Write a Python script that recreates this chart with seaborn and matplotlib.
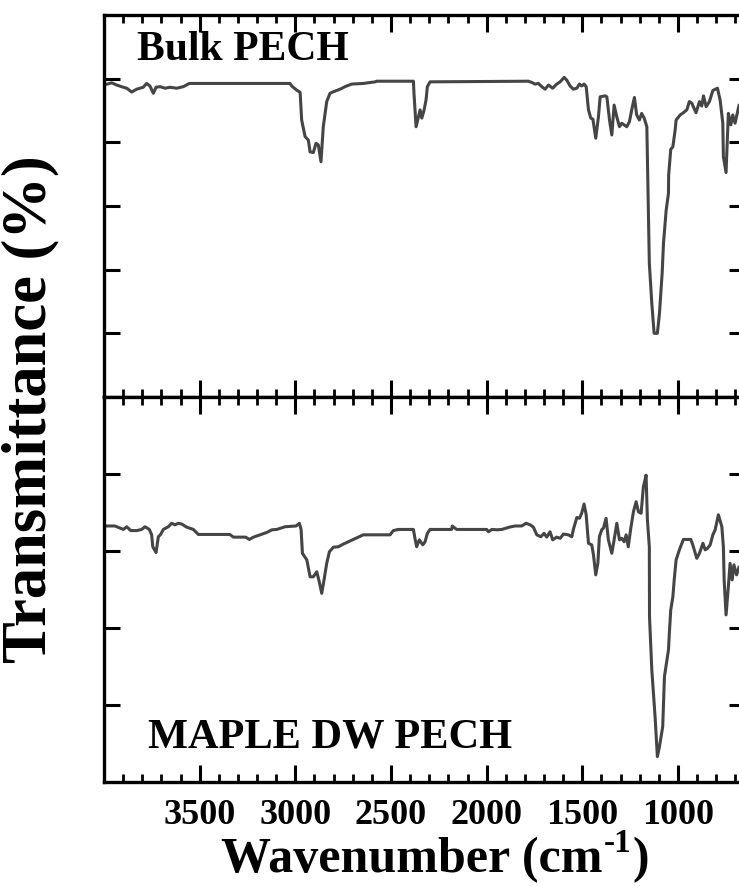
import matplotlib
matplotlib.use("Agg")
import matplotlib.pyplot as plt
from matplotlib.ticker import MultipleLocator, NullFormatter
import seaborn as sns
import pandas as pd

# ---------------- data ----------------
top_wn = [4000, 3983, 3960, 3934, 3899, 3881, 3855, 3829, 3795, 3777, 3760, 3742, 3728, 3707,
          3681, 3655, 3620, 3585, 3554, 3028, 3019, 2993, 2975, 2967, 2949, 2932, 2923, 2906,
          2892, 2880, 2866, 2854, 2836, 2819, 2801, 2766, 2740, 2705, 2645, 2583, 2575, 2383,
          2380, 2369, 2348, 2339, 2327, 2317, 2310, 2296, 1782, 1764, 1747, 1730, 1712, 1695,
          1677, 1655, 1634, 1616, 1595, 1581, 1564, 1547, 1529, 1515, 1503, 1491, 1480, 1468,
          1456, 1445, 1430, 1416, 1407, 1381, 1372, 1358, 1346, 1334, 1320, 1306, 1294, 1282,
          1268, 1254, 1242, 1228, 1216, 1202, 1190, 1177, 1163, 1155, 1150, 1137, 1125, 1108,
          1097, 1083, 1076, 1062, 1050, 1049, 1038, 1027, 1015, 1010, 989, 972, 954, 941, 928,
          906, 888, 876, 867, 853, 836, 818, 794, 780, 766, 763, 749, 737, 724, 714, 702, 681, 660]
top_val = [98.0, 98.3, 98.7, 98.0, 97.3, 97.0, 95.8, 96.7, 97.3, 98.5, 97.7, 95.4, 97.3, 97.5,
           97.0, 97.3, 97.0, 97.5, 98.5, 98.5, 97.7, 96.4, 95.7, 87.0, 81.8, 80.7, 77.0, 76.8,
           79.7, 79.2, 73.9, 84.9, 92.8, 95.4, 95.9, 96.7, 97.5, 98.3, 98.5, 99.0, 99.2, 99.2,
           95.4, 84.9, 90.2, 87.6, 90.2, 93.3, 97.5, 99.0, 99.2, 98.8, 98.3, 98.5, 97.5, 96.7,
           98.0, 97.0, 98.3, 99.0, 100.4, 99.5, 97.7, 96.7, 97.0, 98.3, 97.7, 98.3, 97.5, 90.2,
           87.6, 87.3, 81.3, 88.0, 94.3, 94.6, 94.3, 87.0, 82.3, 91.7, 88.0, 84.9, 86.0, 85.5,
           84.9, 86.5, 90.2, 94.1, 88.6, 87.0, 89.1, 87.6, 84.9, 58.7, 42.0, 29.4, 20.0, 20.0,
           26.3, 38.9, 48.3, 58.7, 64.0, 69.7, 77.8, 78.6, 83.9, 87.0, 88.6, 89.3, 90.2, 92.8, 92.3,
           89.3, 92.8, 91.4, 94.6, 91.2, 92.8, 96.3, 97.0, 93.3, 86.0, 75.5, 70.5, 89.1, 85.5, 88.6, 86.0, 91.7, 92.0]

bot_wn = [4000, 3986, 3943, 3899, 3881, 3860, 3829, 3803, 3786, 3763, 3751, 3745, 3728, 3716,
          3704, 3690, 3664, 3646, 3629, 3612, 3594, 3568, 3533, 3507, 3342, 3324, 3260, 3240,
          3219, 3185, 3150, 3123, 3097, 3054, 2996, 2979, 2970, 2963, 2940, 2923, 2906, 2888,
          2875, 2862, 2850, 2836, 2822, 2801, 2775, 2749, 2723, 2697, 2671, 2645, 2505, 2488,
          2462, 2383, 2375, 2366, 2352, 2334, 2322, 2310, 2296, 2183, 2180, 2157, 2000, 1991,
          1973, 1947, 1921, 1881, 1852, 1817, 1794, 1773, 1756, 1738, 1717, 1700, 1686, 1669,
          1655, 1634, 1616, 1599, 1573, 1555, 1547, 1529, 1515, 1503, 1491, 1480, 1468, 1451,
          1442, 1430, 1419, 1411, 1398, 1390, 1376, 1364, 1346, 1334, 1320, 1306, 1294, 1282,
          1271, 1260, 1247, 1233, 1219, 1207, 1193, 1181, 1167, 1160, 1150, 1149, 1137, 1120,
          1108, 1097, 1080, 1071, 1050, 1045, 1038, 1027, 1020, 1010, 993, 972, 954, 933, 923,
          902, 888, 870, 858, 846, 832, 818, 806, 789, 771, 763, 759, 749, 737, 728, 717, 708,
          694, 681, 660]
bot_val = [66.5, 66.5, 66.5, 65.6, 66.3, 65.3, 65.3, 65.6, 66.3, 65.6, 64.2, 61.1, 59.6, 63.7,
           64.3, 65.6, 66.3, 67.2, 66.8, 67.2, 67.0, 66.2, 65.6, 64.3, 64.3, 63.6, 63.6, 63.0,
           63.6, 64.2, 64.8, 65.5, 65.6, 66.3, 66.5, 67.2, 65.6, 59.4, 57.7, 53.3, 53.3, 54.6,
           52.0, 49.0, 52.5, 56.8, 59.8, 61.0, 61.1, 61.8, 62.4, 63.0, 63.6, 64.2, 64.2, 65.3,
           65.6, 65.6, 63.3, 61.1, 62.9, 61.6, 62.4, 64.6, 65.6, 65.6, 66.5, 65.6, 65.6, 65.0,
           65.6, 65.5, 65.6, 66.2, 66.5, 66.5, 67.2, 66.8, 66.2, 64.2, 63.7, 64.6, 63.6, 65.0,
           62.9, 63.6, 63.3, 64.4, 64.2, 63.7, 65.6, 68.7, 68.5, 69.9, 72.2, 69.4, 62.0, 61.6,
           59.0, 53.8, 56.8, 63.7, 65.6, 65.9, 68.5, 62.9, 59.4, 62.9, 67.2, 62.9, 63.3, 62.4,
           64.2, 61.1, 65.9, 70.2, 72.8, 70.2, 69.8, 76.7, 79.7, 68.1, 61.1, 42.9, 29.1, 17.0,
           6.6, 9.2, 14.4, 27.4, 34.3, 39.0, 44.7, 48.1, 52.5, 57.7, 60.3, 63.0, 63.0, 63.0, 61.6,
           58.1, 59.4, 62.0, 60.3, 60.7, 61.6, 64.2, 65.5, 69.4, 66.3, 61.1, 52.5, 43.4, 50.7, 56.8, 52.5, 56.4,
           53.8, 55.9, 56.0]

panel_labels = ["Bulk PECH", "MAPLE DW PECH"]
x_ticks = [3500, 3000, 2500, 2000, 1500, 1000]
x_label_parts = ["Wavenumber (cm", "-1", ")"]
y_label = "Transmittance (%)"

# ---------------- style ----------------
sns.set_style("ticks")
plt.rcParams["font.family"] = ["Liberation Serif", "DejaVu Serif"]
plt.rcParams["font.weight"] = "bold"
plt.rcParams["text.color"] = "black"
plt.rcParams["axes.labelcolor"] = "black"
plt.rcParams["xtick.color"] = "black"
plt.rcParams["ytick.color"] = "black"
plt.rcParams["xtick.labelcolor"] = "black"
plt.rcParams["ytick.labelcolor"] = "black"

W, H = 739, 886
fig = plt.figure(figsize=(W / 100, H / 100), dpi=100)

left = 104 / W
width = (745 - 104) / W
ax_top = fig.add_axes([left, 1 - 397 / H, width, 382 / H])
ax_bot = fig.add_axes([left, 1 - 782 / H, width, 385 / H])

df_top = pd.DataFrame({"wn": top_wn, "T": top_val})
df_bot = pd.DataFrame({"wn": bot_wn, "T": bot_val})

line_color = "#454545"
sns.lineplot(data=df_top, x="wn", y="T", ax=ax_top, color=line_color, linewidth=2.2,
             sort=False, estimator=None)
sns.lineplot(data=df_bot, x="wn", y="T", ax=ax_bot, color=line_color, linewidth=2.2,
             sort=False, estimator=None)

ax_top.set_ylim(0, 120)
ax_top.set_yticks([20, 40, 60, 80, 100])
ax_bot.set_ylim(0, 100)
ax_bot.set_yticks([20, 40, 60, 80])

for ax in (ax_top, ax_bot):
    ax.set_xlim(4000, 650)
    ax.set_xticks(x_ticks)
    ax.xaxis.set_minor_locator(MultipleLocator(100))
    ax.set_xlabel("")
    ax.set_ylabel("")
    ax.yaxis.set_major_formatter(NullFormatter())
    for s in ax.spines.values():
        s.set_linewidth(2.4)
        s.set_color("black")
        s.set_visible(True)
    ax.tick_params(axis="x", which="major", direction="in", length=12, width=2.2,
                   top=True, bottom=True, colors="black")
    ax.tick_params(axis="x", which="minor", direction="in", length=6, width=2.0,
                   top=True, bottom=True, colors="black")
    ax.tick_params(axis="y", which="major", direction="in", length=11.5, width=2.2,
                   left=True, right=True, colors="black")
    ax.tick_params(axis="y", which="minor", left=False, right=False)

ax_top.xaxis.set_major_formatter(NullFormatter())
ax_bot.tick_params(axis="x", which="major", labelsize=26, pad=12, labelcolor="black")
for lbl in ax_bot.get_xticklabels():
    lbl.set_fontweight("bold")
    lbl.set_color("black")

fig.text(137 / W, 1 - 60 / H, panel_labels[0], fontsize=30, fontweight="bold",
         ha="left", va="baseline", color="black")
fig.text(148 / W, 1 - 748 / H, panel_labels[1], fontsize=30.5, fontweight="bold",
         ha="left", va="baseline", color="black")

# x label built from pieces so the superscript uses a plain hyphen
renderer = fig.canvas.get_renderer()
base_y = 1 - 872 / H
t1 = fig.text(0, base_y, x_label_parts[0], fontsize=36, fontweight="bold",
              ha="left", va="baseline", color="black")
t2 = fig.text(0, base_y, x_label_parts[1], fontsize=24, fontweight="bold",
              ha="left", va="baseline", color="black")
t3 = fig.text(0, base_y, x_label_parts[2], fontsize=36, fontweight="bold",
              ha="left", va="baseline", color="black")
w1 = t1.get_window_extent(renderer).width
w2 = t2.get_window_extent(renderer).width
w3 = t3.get_window_extent(renderer).width
total = w1 + w2 + w3 + 2
x0 = 435 - total / 2
t1.set_x(x0 / W)
t2.set_position(((x0 + w1 + 1) / W, 1 - 852 / H))
t3.set_x((x0 + w1 + w2 + 2) / W)

fig.text(30 / W, 1 - 409 / H, y_label, fontsize=45, fontweight="bold",
         ha="center", va="center", rotation=90, color="black")

fig.savefig("out.png", dpi=100)
